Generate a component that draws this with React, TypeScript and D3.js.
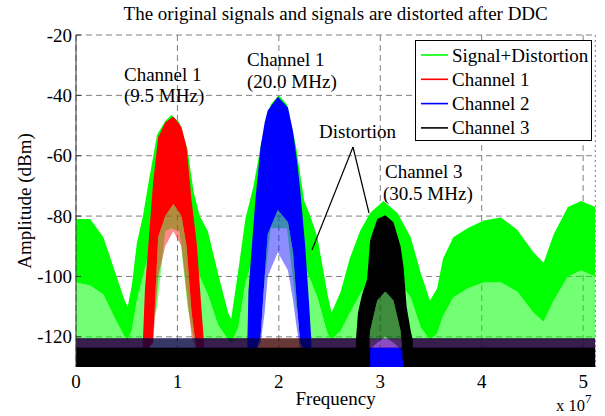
import React, { useEffect } from 'react';
import * as d3 from 'd3';

// frequencies in MHz, levels in dBm
const sigFreq = [0, 1.4, 2.7, 4.0, 4.8, 5.1, 5.5, 6.0, 6.6, 7.2, 8.0, 8.8, 9.4, 10.2, 11.0, 11.6, 12.2, 13.0, 14.0, 15.0, 15.3, 16.0, 16.7, 17.5, 18.3, 19.2, 20.0, 20.8, 21.7, 22.5, 23.1, 23.8, 24.8, 25.2, 26.1, 27.0, 28.0, 29.0, 30.3, 31.7, 33.0, 34.0, 34.9, 35.6, 36.2, 37.2, 38.6, 40.2, 41.9, 43.5, 45.1, 46.1, 47.1, 48.5, 49.8, 51.2];
const sigTop = [-81, -81, -87, -100, -108, -110, -103, -89, -80, -68, -53, -48.5, -46.5, -49, -58, -72, -80, -85, -99, -112, -114, -98, -81, -70, -55, -43, -40, -43, -57, -75, -80, -87, -106, -112, -105, -94, -85, -79, -75, -79, -87, -99, -108, -104, -94, -87, -84, -81.5, -80.5, -84.5, -92, -95.5, -86, -77, -75, -77];
const sigCore = [-102, -103, -106, -115, -120, -121, -118, -108, -100, -92, -82, -76, -75, -76, -82, -94, -100, -106, -116, -121, -122, -117, -102, -94, -82, -75, -75, -75, -84, -96, -101, -107, -119, -121, -118, -112, -106, -101, -98, -101, -107, -117, -121, -119, -113, -107, -104, -102, -102, -105, -112, -115, -108, -100, -98, -100];
const sigLow = [-121, -121, -121, -121, -121, -121, -121, -121, -121, -121, -110, -85, -84, -85, -110, -121, -121, -121, -121, -121, -122, -121, -121, -121, -110, -84, -84, -84, -110, -121, -121, -121, -121, -121, -121, -121, -121, -121, -121, -121, -121, -121, -121, -121, -121, -121, -121, -121, -121, -121, -121, -121, -121, -121, -121, -121];

const ch1Freq = [6.6, 6.8, 7.6, 8.1, 8.8, 9.6, 10.4, 10.9, 11.4, 11.9, 12.4, 12.6];
const ch1Top = [-121, -104, -69, -54, -49, -47, -50.5, -57, -75, -89, -112, -121];
const ch1Core = [-125, -125, -122, -87, -80, -76, -80, -90, -112, -125, -125, -125];
const ch1Low = [-125, -125, -122, -100, -90, -85, -90, -105, -120, -125, -125, -125];

const ch2Freq = [16.9, 17.0, 17.7, 18.2, 18.6, 18.9, 19.9, 20.9, 21.4, 21.8, 22.1, 22.6, 23.0, 23.2];
const ch2Top = [-121, -105, -74, -57, -49, -45, -40.5, -44, -52, -62, -71, -90, -110, -121];
const ch2Core = [-125, -125, -125, -120, -100, -86, -78, -82, -92, -110, -122, -125, -125, -125];
const ch2Low = [-125, -125, -125, -122, -112, -100, -92, -98, -108, -118, -124, -125, -125, -125];

const ch3Freq = [27.6, 27.8, 28.2, 28.7, 29.0, 29.7, 30.5, 31.3, 32.0, 32.3, 32.6, 33.0, 33.2];
const ch3Top = [-121, -112, -106, -101, -88, -81, -79.7, -82, -90, -97, -110, -118, -121];
const ch3Core = [-130, -130, -130, -130, -118, -108, -105, -108, -118, -130, -130, -130, -130];
const ch3Low = [-130, -130, -130, -130, -124, -122, -120, -122, -124, -130, -130, -130, -130];

// noise floor of each channel, and the band where its own signal replaces it
const floorFreq = [0, 51.2];
const floorSpike = [-120.5, -120.5];
const floorSolid = [-123.5, -123.5];
const floorBase = [-130, -130];
const ch1Gap = [7.0, 12.3];
const ch2Gap = [17.2, 22.8];
const ch3Gap = [29.0, 32.3];

const xTicks = [0, 1, 2, 3, 4, 5];
const yTicks = [-120, -100, -80, -60, -40, -20];
const legendLabels = ['Signal+Distortion', 'Channel 1', 'Channel 2', 'Channel 3'];
const colors = ['#00ff00', '#ff0000', '#0000ff', '#000000'];

const W = 605;
const H = 416;
const left = 76;
const right = 595.3;
const top = 35;
const bottom = 367;
const fs = 19;
const font = '"Liberation Serif", "Times New Roman", serif';

const x = d3.scaleLinear().domain([0, 5.12e7]).range([left, right]);
const y = d3.scaleLinear().domain([-130, -20]).range([bottom, top]);

function band(freq: number[], hi: number[], lo: number[]) {
  const idx = freq.map((_, i) => i);
  return (
    d3
      .area<number>()
      .x((i) => x(freq[i] * 1e6))
      .y0((i) => y(lo[i]))
      .y1((i) => y(hi[i]))(idx) || ''
  );
}

// floor left and right of the gap
function floorPieces(gap: number[]) {
  return [
    [floorFreq[0], gap[0]],
    [gap[1], floorFreq[floorFreq.length - 1]],
  ];
}

const channels = [
  { color: colors[1], freq: ch1Freq, top: ch1Top, core: ch1Core, low: ch1Low, gap: ch1Gap },
  { color: colors[2], freq: ch2Freq, top: ch2Top, core: ch2Core, low: ch2Low, gap: ch2Gap },
  { color: colors[3], freq: ch3Freq, top: ch3Top, core: ch3Core, low: ch3Low, gap: ch3Gap },
];
const spikeOpacity = [0.45, 0.45, 0.6];

const App = () => {
  useEffect(() => {
    document.body.style.margin = '0';
  }, []);

  return (
    <svg width={W} height={H} style={{ display: 'block', background: '#fff' }} fontFamily={font}>
      <defs>
        <clipPath id="plot">
          <rect x={left} y={top} width={right - left} height={bottom - top} />
        </clipPath>
      </defs>

      {/* grid */}
      <g stroke="#7f7f7f" strokeDasharray="6,4" strokeWidth={1}>
        {xTicks.map((t) => (
          <line key={'gx' + t} x1={x(t * 1e7)} x2={x(t * 1e7)} y1={top} y2={bottom} />
        ))}
        {yTicks.map((t) => (
          <line key={'gy' + t} x1={left} x2={right} y1={y(t)} y2={y(t)} />
        ))}
        <line x1={right} x2={right} y1={top} y2={bottom} strokeDasharray="2,3" />
      </g>

      <g clipPath="url(#plot)">
        {/* Signal + Distortion */}
        <path d={band(sigFreq, sigCore, sigLow)} fill={colors[0]} fillOpacity={0.55} />
        <path d={band(sigFreq, sigTop, sigCore)} fill={colors[0]} />

        {channels.map((c, k) => (
          <g key={k}>
            {floorPieces(c.gap).map((p, j) => (
              <g key={j}>
                <path d={band(p, floorSpike, floorSolid)} fill={c.color} fillOpacity={spikeOpacity[k]} />
                <path d={band(p, floorSolid, floorBase)} fill={c.color} />
              </g>
            ))}
            <path d={band(c.freq, c.core, c.low)} fill={c.color} fillOpacity={0.45} />
            <path d={band(c.freq, c.top, c.core)} fill={c.color} />
          </g>
        ))}
      </g>

      {/* axes */}
      <line x1={left} x2={left} y1={top} y2={bottom} stroke="#333" strokeWidth={1} />
      {yTicks.map((t) => (
        <g key={'ty' + t}>
          <line x1={left} x2={left + 5} y1={y(t)} y2={y(t)} stroke="#333" />
          <text x={left - 4} y={y(t) + 6.5} fontSize={fs} textAnchor="end">
            {t}
          </text>
        </g>
      ))}
      {xTicks.map((t) => (
        <text key={'tx' + t} x={x(t * 1e7)} y={388} fontSize={fs} textAnchor="middle">
          {t}
        </text>
      ))}

      <text x={(left + right) / 2} y={20} fontSize={fs} textAnchor="middle">
        The original signals and signals are distorted after DDC
      </text>
      <text x={(left + right) / 2} y={405} fontSize={fs} textAnchor="middle">
        Frequency
      </text>
      <text x={556} y={411} fontSize={16.5}>
        x 10
        <tspan dy={-8} fontSize={13}>
          7
        </tspan>
      </text>
      <text transform={`translate(31,${(top + bottom) / 2}) rotate(-90)`} fontSize={fs} textAnchor="middle">
        Amplitude (dBm)
      </text>

      {/* annotations */}
      <g fontSize={fs}>
        <text x={124} y={81}>Channel 1</text>
        <text x={124} y={102}>(9.5 MHz)</text>
        <text x={247} y={66}>Channel 1</text>
        <text x={247} y={88}>(20.0 MHz)</text>
        <text x={319} y={138}>Distortion</text>
        <text x={385} y={178}>Channel 3</text>
        <text x={383} y={200}>(30.5 MHz)</text>
      </g>
      <g stroke="#000" strokeWidth={1.2}>
        <line x1={353} y1={147} x2={312} y2={250} />
        <line x1={353} y1={147} x2={369} y2={213} />
      </g>

      {/* legend */}
      <g>
        <rect x={415.5} y={40.5} width={176} height={100} fill="#fff" stroke="#000" />
        {legendLabels.map((l, i) => (
          <g key={l} transform={`translate(0,${55 + i * 24.3})`}>
            <line x1={421} x2={448} y1={0} y2={0} stroke={colors[i]} strokeWidth={1.6} />
            <text x={452} y={6.5} fontSize={fs}>
              {l}
            </text>
          </g>
        ))}
      </g>
    </svg>
  );
};

export default App;
